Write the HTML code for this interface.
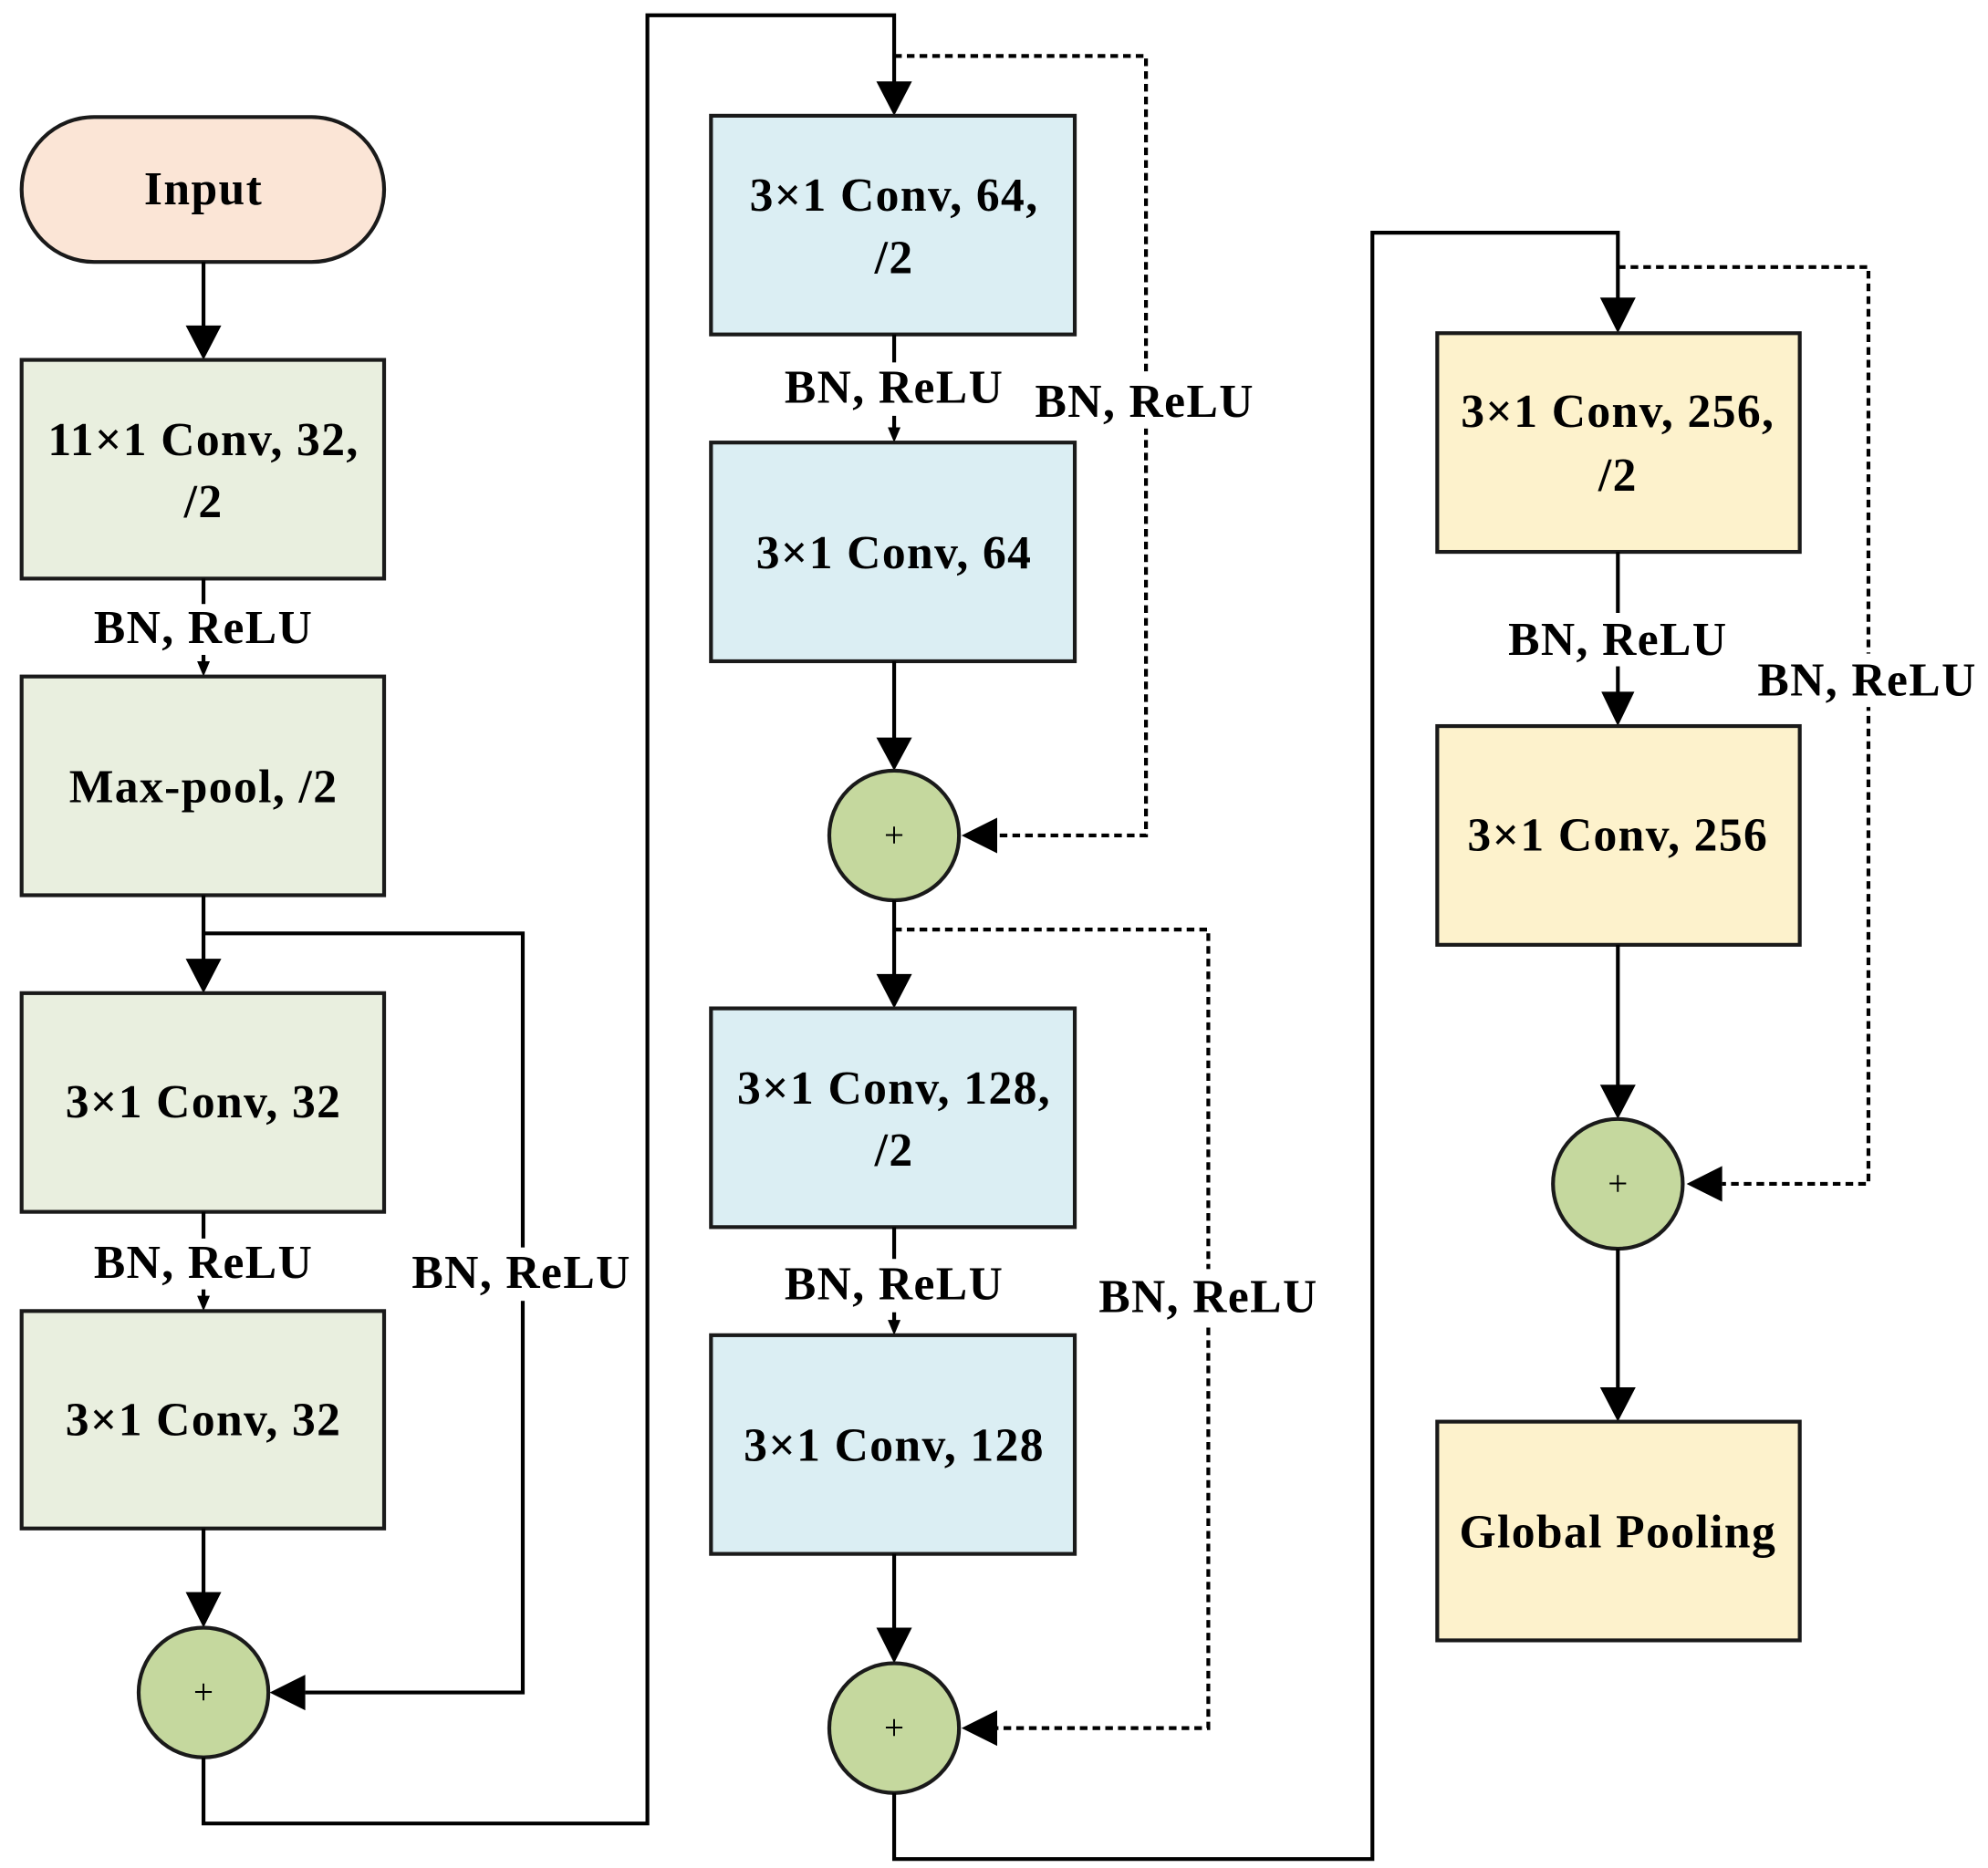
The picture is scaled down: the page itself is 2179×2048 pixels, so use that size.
<!DOCTYPE html>
<html><head><style>html,body{margin:0;padding:0;background:#fff}svg{display:block}</style></head><body>
<svg width="2179" height="2048" viewBox="0 0 1563 1469" xmlns="http://www.w3.org/2000/svg">
<style>
.b{stroke:#1a1a1a;stroke-width:3}
.l{stroke:#000;stroke-width:3;fill:none}
.d{stroke:#000;stroke-width:3;fill:none;stroke-dasharray:6,4}
text{font-family:"Liberation Serif",serif;font-weight:bold;font-size:37px;letter-spacing:1px;text-anchor:middle;dominant-baseline:central;fill:#000}
.p{font-size:28px;font-weight:normal;letter-spacing:0}
</style>
<!-- column 1 -->
<rect x="17" y="92" width="285" height="114" rx="57" fill="#fbe5d6" class="b"/>
<text x="160" y="149">Input</text>
<line x1="160" y1="206" x2="160" y2="258" class="l"/><polygon points="146,256 174,256 160,283"/>
<rect x="17" y="283" width="285" height="172" fill="#e9efdf" class="b"/>
<text x="160" y="346">11×1 Conv, 32,</text><text x="160" y="395">/2</text>
<line x1="160" y1="455" x2="160" y2="524" class="l"/><polygon points="155,520 165,520 160,532"/>
<rect x="70" y="475" width="178" height="40" fill="#fff"/><text x="160" y="494">BN, ReLU</text>
<rect x="17" y="532" width="285" height="172" fill="#e9efdf" class="b"/>
<text x="160" y="619">Max-pool, /2</text>
<line x1="160" y1="704" x2="160" y2="756" class="l"/><polygon points="146,754 174,754 160,781"/>
<polyline points="160,734 411,734 411,1331 240,1331" class="l"/><polygon points="240,1317 240,1345 212,1331"/>
<rect x="17" y="781" width="285" height="172" fill="#e9efdf" class="b"/>
<text x="160" y="867">3×1 Conv, 32</text>
<line x1="160" y1="953" x2="160" y2="1023" class="l"/><polygon points="155,1019 165,1019 160,1031"/>
<rect x="70" y="974" width="178" height="40" fill="#fff"/><text x="160" y="993">BN, ReLU</text>
<rect x="320" y="981" width="180" height="42" fill="#fff"/><text x="410" y="1001">BN, ReLU</text>
<rect x="17" y="1031" width="285" height="171" fill="#e9efdf" class="b"/>
<text x="160" y="1117">3×1 Conv, 32</text>
<line x1="160" y1="1202" x2="160" y2="1254" class="l"/><polygon points="146,1252 174,1252 160,1280"/>
<circle cx="160" cy="1331" r="51" fill="#c5d89e" class="b"/><text x="160" y="1331" class="p">+</text>
<polyline points="160,1382 160,1434 509,1434 509,12 703,12 703,66" class="l"/><polygon points="689,64 717,64 703,91"/>
<!-- column 2 -->
<polyline points="703,44 901,44 901,657 784,657" class="d"/><polygon points="784,643 784,671 756,657"/>
<rect x="559" y="91" width="286" height="172" fill="#dbeef3" class="b"/>
<text x="703" y="154">3×1 Conv, 64,</text><text x="703" y="203">/2</text>
<line x1="703" y1="263" x2="703" y2="340" class="l"/><polygon points="698,336 708,336 703,348"/>
<rect x="613" y="285" width="178" height="42" fill="#fff"/><text x="703" y="305">BN, ReLU</text>
<rect x="810" y="295" width="180" height="42" fill="#fff"/><text x="900" y="316">BN, ReLU</text>
<rect x="559" y="348" width="286" height="172" fill="#dbeef3" class="b"/>
<text x="703" y="435">3×1 Conv, 64</text>
<line x1="703" y1="520" x2="703" y2="582" class="l"/><polygon points="689,580 717,580 703,606"/>
<circle cx="703" cy="657" r="51" fill="#c5d89e" class="b"/><text x="703" y="657" class="p">+</text>
<line x1="703" y1="708" x2="703" y2="768" class="l"/><polygon points="689,766 717,766 703,793"/>
<polyline points="703,731 950,731 950,1359 784,1359" class="d"/><polygon points="784,1345 784,1373 756,1359"/>
<rect x="559" y="793" width="286" height="172" fill="#dbeef3" class="b"/>
<text x="703" y="856">3×1 Conv, 128,</text><text x="703" y="905">/2</text>
<line x1="703" y1="965" x2="703" y2="1042" class="l"/><polygon points="698,1038 708,1038 703,1050"/>
<rect x="613" y="990" width="178" height="42" fill="#fff"/><text x="703" y="1010">BN, ReLU</text>
<rect x="860" y="998" width="180" height="44" fill="#fff"/><text x="950" y="1020">BN, ReLU</text>
<rect x="559" y="1050" width="286" height="172" fill="#dbeef3" class="b"/>
<text x="703" y="1137">3×1 Conv, 128</text>
<line x1="703" y1="1222" x2="703" y2="1282" class="l"/><polygon points="689,1280 717,1280 703,1308"/>
<circle cx="703" cy="1359" r="51" fill="#c5d89e" class="b"/><text x="703" y="1359" class="p">+</text>
<polyline points="703,1410 703,1462 1079,1462 1079,183 1272,183 1272,236" class="l"/><polygon points="1258,234 1286,234 1272,262"/>
<!-- column 3 -->
<polyline points="1272,210 1469,210 1469,931 1354,931" class="d"/><polygon points="1354,917 1354,945 1326,931"/>
<rect x="1130" y="262" width="285" height="172" fill="#fdf2cc" class="b"/>
<text x="1272" y="324">3×1 Conv, 256,</text><text x="1272" y="374">/2</text>
<line x1="1272" y1="434" x2="1272" y2="546" class="l"/><polygon points="1259,544 1285,544 1272,571"/>
<rect x="1182" y="482" width="180" height="42" fill="#fff"/><text x="1272" y="503">BN, ReLU</text>
<rect x="1378" y="514" width="180" height="42" fill="#fff"/><text x="1468" y="535">BN, ReLU</text>
<rect x="1130" y="571" width="285" height="172" fill="#fdf2cc" class="b"/>
<text x="1272" y="657">3×1 Conv, 256</text>
<line x1="1272" y1="743" x2="1272" y2="855" class="l"/><polygon points="1258,853 1286,853 1272,880"/>
<circle cx="1272" cy="931" r="51" fill="#c5d89e" class="b"/><text x="1272" y="931" class="p">+</text>
<line x1="1272" y1="982" x2="1272" y2="1093" class="l"/><polygon points="1258,1091 1286,1091 1272,1118"/>
<rect x="1130" y="1118" width="285" height="172" fill="#fdf2cc" class="b"/>
<text x="1272" y="1205">Global Pooling</text>
</svg>
</body></html>
